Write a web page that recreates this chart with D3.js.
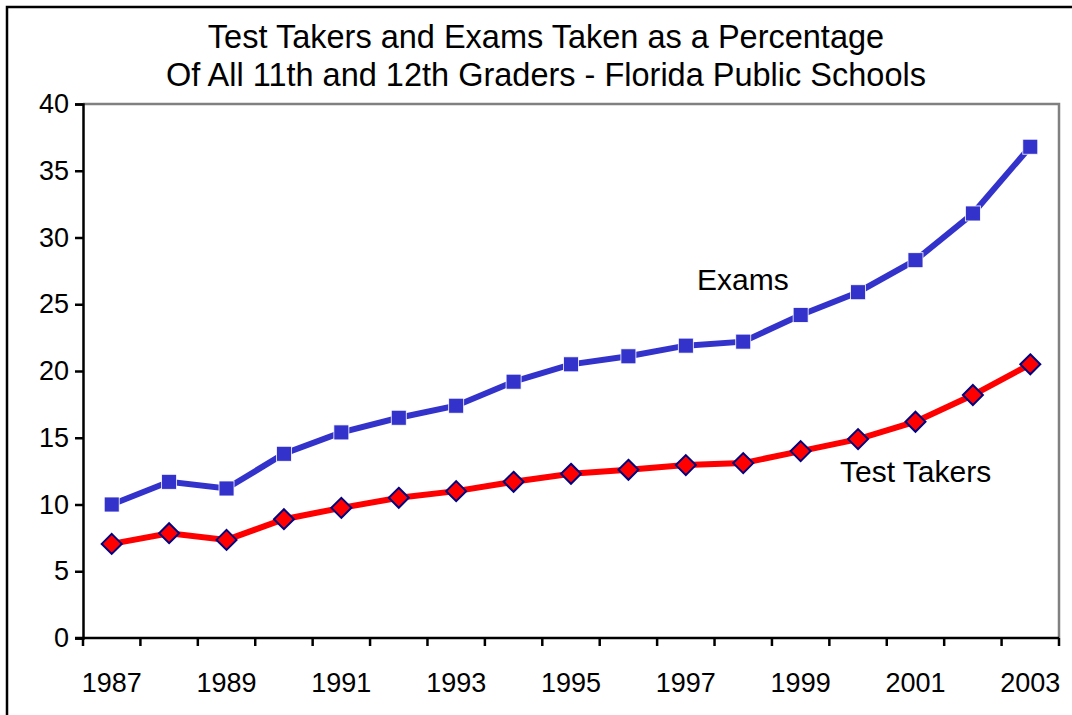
<!DOCTYPE html>
<html>
<head>
<meta charset="utf-8">
<script src="https://cdn.jsdelivr.net/npm/d3@7"></script>
<style>
  body { margin: 0; background: #fff; }
  text { font-family: "Liberation Sans", Arial, sans-serif; fill: #000; }
</style>
</head>
<body>
<script>
// data
const years = ['1987','1988','1989','1990','1991','1992','1993','1994','1995',
               '1996','1997','1998','1999','2000','2001','2002','2003'];
const exams = [10.0, 11.7, 11.2, 13.8, 15.4, 16.5, 17.4, 19.2, 20.5,
               21.1, 21.9, 22.2, 24.2, 25.9, 28.3, 31.8, 36.8];
const testTakers = [7.05, 7.85, 7.35, 8.9, 9.75, 10.5, 11.0, 11.7, 12.3,
                    12.6, 12.95, 13.1, 14.0, 14.9, 16.2, 18.2, 20.5];
const yTicks = [0, 5, 10, 15, 20, 25, 30, 35, 40];
const xLabels = ['1987','1989','1991','1993','1995','1997','1999','2001','2003'];
const titleLines = ['Test Takers and Exams Taken as a Percentage',
                    'Of All 11th and 12th Graders - Florida Public Schools'];

const width = 1072, height = 715;
const plotLeft = 83, plotRight = 1059, plotTop = 104, plotBottom = 638;

const svg = d3.select('body').append('svg')
    .attr('width', width)
    .attr('height', height)

// outer frame (runs off right and bottom edges)
svg.append('rect')
    .attr('x', 7).attr('y', 7)
    .attr('width', 1100).attr('height', 800)
    .attr('fill', 'none')
    .attr('stroke', '#000')
    .attr('stroke-width', 2.5)

svg.selectAll('.title')
    .data(titleLines)
    .enter()
    .append('text')
    .attr('class', 'title')
    .attr('x', 546)
    .attr('y', (_, i) => 48 + i * 38)
    .attr('text-anchor', 'middle')
    .attr('font-size', 32.5)
    .text(d => d)

const x = d3.scaleBand().domain(years).range([plotLeft, plotRight]);
const y = d3.scaleLinear().domain([0, 40]).range([plotBottom, plotTop]);
const cx = d => x(d) + x.bandwidth() / 2;

// plot area border (gray, top and right)
svg.append('path')
    .attr('d', `M${plotLeft},${plotTop}H${plotRight}V${plotBottom}`)
    .attr('fill', 'none')
    .attr('stroke', '#808080')
    .attr('stroke-width', 2.5)

// y axis
const yAxis = svg.append('g')
    .attr('transform', `translate(${plotLeft},0)`)
    .call(d3.axisLeft(y).tickValues(yTicks).tickSize(8).tickPadding(6))
yAxis.select('.domain').attr('stroke-width', 2.5)
yAxis.selectAll('.tick line').attr('stroke-width', 2.5)
yAxis.selectAll('.tick text').attr('font-size', 27).attr('font-family', '"Liberation Sans", Arial, sans-serif')

// x axis: ticks between categories, labels every other year
const xAxis = svg.append('g')
    .attr('transform', `translate(0,${plotBottom})`)
xAxis.append('line')
    .attr('x1', plotLeft - 8).attr('x2', plotRight)
    .attr('stroke', '#000').attr('stroke-width', 2.5)
xAxis.selectAll('.xtick')
    .data(years.concat(['end']))
    .enter()
    .append('line')
    .attr('class', 'xtick')
    .attr('x1', (d, i) => i < years.length ? x(d) : plotRight)
    .attr('x2', (d, i) => i < years.length ? x(d) : plotRight)
    .attr('y1', 0).attr('y2', 8)
    .attr('stroke', '#000').attr('stroke-width', 2.5)
xAxis.selectAll('.xlabel')
    .data(xLabels)
    .enter()
    .append('text')
    .attr('class', 'xlabel')
    .attr('x', d => cx(d))
    .attr('y', 54)
    .attr('text-anchor', 'middle')
    .attr('font-size', 27)
    .text(d => d)

const line = d3.line()
    .x((_, i) => cx(years[i]))
    .y(d => y(d))

// Exams series
svg.append('path')
    .datum(exams)
    .attr('d', line)
    .attr('fill', 'none')
    .attr('stroke', '#3333CC')
    .attr('stroke-width', 6)
svg.selectAll('.sq')
    .data(exams)
    .enter()
    .append('rect')
    .attr('class', 'sq')
    .attr('x', (_, i) => cx(years[i]) - 7.5)
    .attr('y', d => y(d) - 7.5)
    .attr('width', 15).attr('height', 15)
    .attr('fill', '#3333CC')
    .attr('stroke', '#fff')
    .attr('stroke-width', 0.8)

// Test Takers series
svg.append('path')
    .datum(testTakers)
    .attr('d', line)
    .attr('fill', 'none')
    .attr('stroke', '#FF0000')
    .attr('stroke-width', 6)
svg.selectAll('.dm')
    .data(testTakers)
    .enter()
    .append('path')
    .attr('class', 'dm')
    .attr('transform', (d, i) => `translate(${cx(years[i])},${y(d)})`)
    .attr('d', 'M0,-10L10,0L0,10L-10,0Z')
    .attr('fill', '#FF0000')
    .attr('stroke', '#000080')
    .attr('stroke-width', 2)

// series labels
svg.append('text')
    .attr('x', 697).attr('y', 290)
    .attr('font-size', 30)
    .text('Exams')
svg.append('text')
    .attr('x', 840).attr('y', 482)
    .attr('font-size', 30)
    .text('Test Takers')
</script>
</body>
</html>
